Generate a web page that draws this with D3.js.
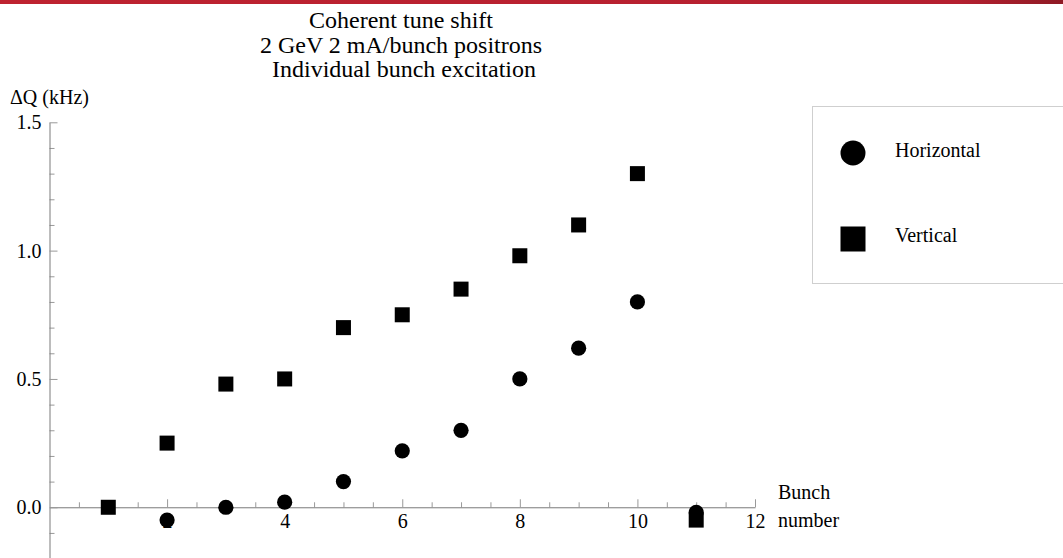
<!DOCTYPE html>
<html>
<head>
<meta charset="utf-8">
<script src="https://cdn.jsdelivr.net/npm/d3@7/dist/d3.min.js"></script>
<style>
  html, body { margin: 0; padding: 0; background: #fff; }
  svg text { font-family: "Liberation Serif", "Times New Roman", serif; }
</style>
</head>
<body>
<svg id="chart" width="1063" height="558"></svg>
<script>
// ---- data ----
const titleLines = ["Coherent tune shift", "2 GeV 2 mA/bunch positrons", " Individual bunch excitation"];
const yAxisTitle = "ΔQ (kHz)";
const xAxisTitle = ["Bunch", "number"];
const seriesNames = ["Horizontal", "Vertical"];

const horizBunch = [2, 3, 4, 5, 6, 7, 8, 9, 10, 11];
const horizShift = [-0.05, 0.0, 0.02, 0.10, 0.22, 0.30, 0.50, 0.62, 0.80, -0.02];

const vertBunch = [1, 2, 3, 4, 5, 6, 7, 8, 9, 10, 11];
const vertShift = [0.0, 0.25, 0.48, 0.50, 0.70, 0.75, 0.85, 0.98, 1.10, 1.30, -0.05];

const xMajorTicks = [2, 4, 6, 8, 10, 12];
const yMajorTicks = [0.0, 0.5, 1.0, 1.5];

// ---- drawing ----
const svg = d3.select("#chart");
const W = 1063, H = 558;
const FONT = "'Liberation Serif', 'Times New Roman', serif";

// top decorative band
const band = svg.append("defs").append("linearGradient").attr("id", "band")
  .attr("x1", 0).attr("x2", 1);
band.append("stop").attr("offset", "0%").attr("stop-color", "#be2230");
band.append("stop").attr("offset", "90%").attr("stop-color", "#b52030");
band.append("stop").attr("offset", "100%").attr("stop-color", "#8e1a24");
svg.append("rect").attr("x", 0).attr("y", 0).attr("width", W).attr("height", 4)
  .attr("fill", "url(#band)");

const x = d3.scaleLinear().domain([0, 12]).range([49.5, 755]);
const y = d3.scaleLinear().domain([-0.2, 1.5]).range([558.6, 122.3]);

const axisColor = "#7a7a7a";
const tickColor = "#999";

const xMinor = d3.range(0.5, 12, 0.5).filter(v => !xMajorTicks.includes(v));
const yMinor = d3.range(-2, 15).map(v => v / 10).filter(v => !yMajorTicks.some(m => Math.abs(m - v) < 1e-9));

const gxMinor = svg.append("g").attr("transform", `translate(0,${y(0)})`)
  .call(d3.axisBottom(x).tickValues(xMinor).tickSize(-5).tickSizeOuter(0).tickFormat(""));
gxMinor.select(".domain").remove();
gxMinor.selectAll("line").attr("stroke", tickColor);

const gyMinor = svg.append("g").attr("transform", `translate(${x(0)},0)`)
  .call(d3.axisLeft(y).tickValues(yMinor).tickSize(-5).tickSizeOuter(0).tickFormat(""));
gyMinor.select(".domain").remove();
gyMinor.selectAll("line").attr("stroke", tickColor);

const gx = svg.append("g").attr("transform", `translate(0,${y(0)})`)
  .call(d3.axisBottom(x).tickValues(xMajorTicks).tickSize(-8).tickSizeOuter(0).tickPadding(7)
    .tickFormat(d3.format("d")));
gx.attr("font-family", FONT);
gx.select(".domain").attr("stroke", axisColor);
gx.selectAll("line").attr("stroke", tickColor);
gx.selectAll("text").attr("font-size", 20).attr("font-family", FONT).attr("fill", "#000");

const gy = svg.append("g").attr("transform", `translate(${x(0)},0)`)
  .call(d3.axisLeft(y).tickValues(yMajorTicks).tickSize(-8).tickSizeOuter(0).tickPadding(8)
    .tickFormat(d3.format(".1f")));
gy.attr("font-family", FONT);
gy.select(".domain").attr("stroke", axisColor);
gy.selectAll("line").attr("stroke", tickColor);
gy.selectAll("text").attr("font-size", 20).attr("font-family", FONT).attr("fill", "#000");

// axis titles
svg.append("text").attr("x", 10).attr("y", 104).attr("font-size", 20).attr("font-family", FONT).text(yAxisTitle);
svg.append("text").attr("x", 778).attr("y", 499).attr("font-size", 20).attr("font-family", FONT).text(xAxisTitle[0]);
svg.append("text").attr("x", 778).attr("y", 527).attr("font-size", 20).attr("font-family", FONT).text(xAxisTitle[1]);

// title
svg.append("g").selectAll("text").data(titleLines).join("text")
  .attr("x", 401).attr("y", (d, i) => 28 + i * 24.5)
  .attr("text-anchor", "middle").attr("font-size", 24).attr("font-family", FONT)
  .style("white-space", "pre")
  .text(d => d);

// markers
const sq = 15, r = 7.6;
svg.append("g").selectAll("rect").data(vertBunch.map((b, i) => [b, vertShift[i]])).join("rect")
  .attr("x", d => x(d[0]) - sq / 2).attr("y", d => y(d[1]) - sq / 2)
  .attr("width", sq).attr("height", sq).attr("fill", "#000");
svg.append("g").selectAll("circle").data(horizBunch.map((b, i) => [b, horizShift[i]])).join("circle")
  .attr("cx", d => x(d[0])).attr("cy", d => y(d[1])).attr("r", r).attr("fill", "#000");

// legend
const lg = svg.append("g");
lg.append("rect").attr("x", 812.5).attr("y", 106.5).attr("width", 270).attr("height", 177)
  .attr("fill", "#fff").attr("stroke", "#cfcfcf");
lg.append("circle").attr("cx", 853).attr("cy", 153).attr("r", 12.5).attr("fill", "#000");
lg.append("rect").attr("x", 840.5).attr("y", 226.5).attr("width", 25).attr("height", 25).attr("fill", "#000");
lg.append("text").attr("x", 895).attr("y", 157).attr("font-size", 20).attr("font-family", FONT).text(seriesNames[0]);
lg.append("text").attr("x", 895).attr("y", 242).attr("font-size", 20).attr("font-family", FONT).text(seriesNames[1]);
</script>
</body>
</html>
